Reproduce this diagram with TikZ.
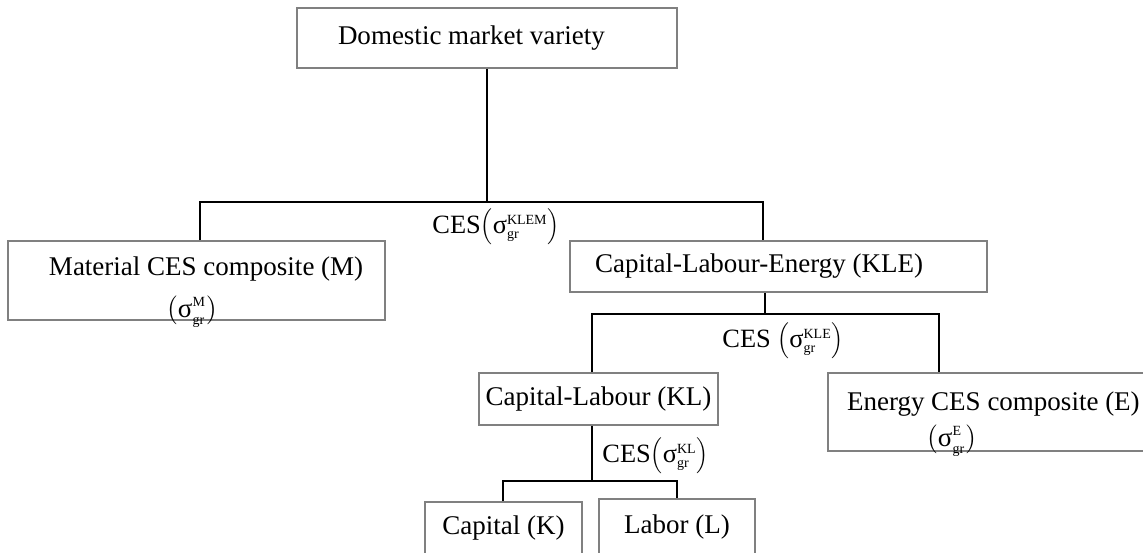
\documentclass[tikz,border=0pt]{standalone}
\usepackage{fontspec}
\setmainfont{Liberation Serif}
\usepackage{tikz}
\tikzset{%
  boxnode/.style = {rectangle,draw=gray,line width=0.8pt,inner xsep=0pt,
        inner ysep=0pt,font=\fontsize{13.5}{16}\selectfont},
  cesnode/.style = {inner sep=0pt,anchor=west,
        font=\fontsize{13.2}{16}\selectfont},
  branch/.style = {draw=black,line width=1pt}
}
\newcommand{\sgr}[1]{\ensuremath{\mbox{σ}^{\mbox{\fontsize{7}{7}\selectfont #1}}_{\mbox{\fontsize{7}{7}\selectfont gr}}}}

\begin{document}
\begin{tikzpicture}[x=0.5pt,y=-0.5pt]
\useasboundingbox (0,0) rectangle (1143,552);
\node[boxnode,text width=190pt,minimum height=30pt,align=flush left] (dom) at (487,38)
    {\hspace*{20.5pt}Domestic market variety};
\node[boxnode,text width=188.5pt,minimum height=39.5pt,align=flush left] (mat) at (196.5,280.5)
    {\hspace*{20.5pt}\rule{0pt}{15.5pt}Material CES composite (M)\\[5pt]%
     \hspace*{79.5pt}\smash{$\bigl(\sgr{M}\bigr)$}};
\node[boxnode,text width=208.5pt,minimum height=25.5pt,align=flush left] (kle) at (778.5,266.5)
    {\hspace*{12.5pt}Capital-Labour-Energy (KLE)};
\node[boxnode,minimum width=119.5pt,minimum height=26pt] (kl) at (598.5,399)
    {Capital-Labour (KL)};
\node[boxnode,text width=172pt,minimum height=39pt,align=flush left] (en) at (1000,412)
    {\hspace*{9.5pt}\rule{0pt}{16pt}Energy CES composite (E)\\[2pt]%
     \hspace*{49.5pt}\smash{$\bigl(\sgr{E}\bigr)$}};
\node[boxnode,minimum width=78.5pt,minimum height=26pt] (cap) at (503.5,528)
    {Capital (K)};
\node[boxnode,minimum width=78pt,minimum height=28pt] (lab) at (677,527)
    {Labor (L)};

\node[cesnode] (cesklem) at (432,227) {CES$\Bigl(\sgr{KLEM}\Bigr)$};
\node[cesnode] (ceskle) at (722,341) {CES $\Bigl(\sgr{KLE}\Bigr)$};
\node[cesnode] (ceskl) at (602,456) {CES$\Bigl(\sgr{KL}\Bigr)$};

\coordinate (klemL) at (200,202);
\coordinate (klemR) at (763,202);
\coordinate (kleL) at (592,314);
\coordinate (kleM) at (765,314);
\coordinate (kleR) at (939,314);
\coordinate (klL) at (503,481);
\coordinate (klM) at (592,481);
\coordinate (klR) at (677,481);

\draw[branch] (dom.south) -- (dom.south |- klemL);
\draw[branch] (klemL |- mat.north) -- (klemL) -- (klemR) -- (klemR |- kle.north);
\draw[branch] (kleM |- kle.south) -- (kleM);
\draw[branch] (kleL |- kl.north) -- (kleL) -- (kleR) -- (kleR |- en.north);
\draw[branch] (klM |- kl.south) -- (klM);
\draw[branch] (klL |- cap.north) -- (klL) -- (klR) -- (klR |- lab.north);
\end{tikzpicture}
\end{document}
